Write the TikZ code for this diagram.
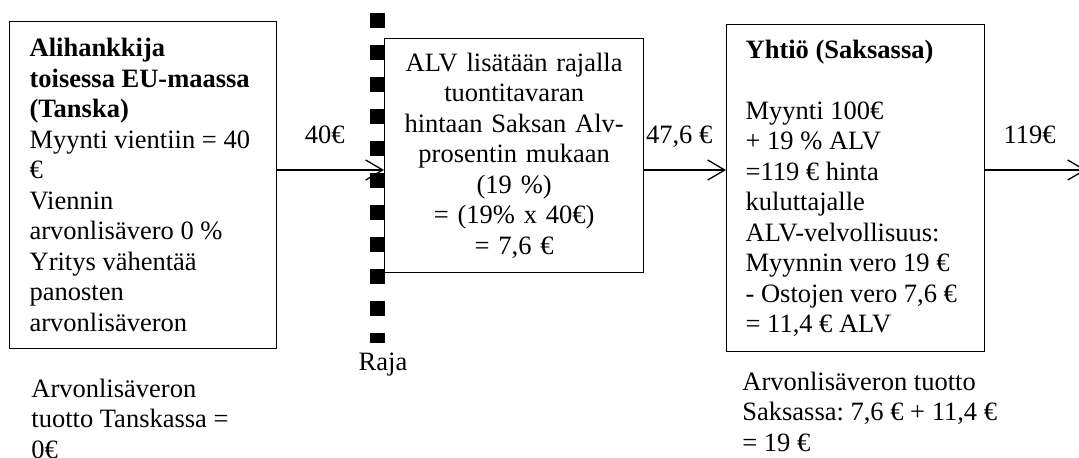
\documentclass[tikz,border=0pt]{standalone}
\usepackage{fontspec}
\setmainfont{Liberation Serif}
\usetikzlibrary{arrows.meta}
\tikzset{
  leftset/.style={align=left, execute at begin node={\frenchspacing\spaceskip=0pt\xspaceskip=0pt}},
  box/.style={draw, line width=0.65pt, inner ysep=0pt, anchor=north west},
  flow/.style={line width=0.65pt, -{Straight Barb[length=8.5pt, width=10pt, line width=0.65pt]}},
  amount/.style={midway, anchor=base, yshift=13.5pt, xshift=-3pt, inner sep=0pt},
  note/.style={leftset, anchor=base west, inner sep=0pt},
  border/.style={line width=7.5pt, dash pattern=on 7.5pt off 8.5pt}
}
\begin{document}
\begin{tikzpicture}[x=0.5pt, y=-0.5pt, font=\fontsize{13.25}{15.25}\selectfont]
  \useasboundingbox (0,0) rectangle (1079,457);
  \coordinate (flowline) at (0,170);
  \coordinate (rajatop) at (377,13);
  \coordinate (rajabottom) at (377,343);
  \draw [border] (rajatop) -- (rajabottom);
  \node [anchor=base] (raja) at (383,370) {Raja};
  \node [box, leftset, inner xsep=10pt, text width=113.5pt, minimum height=163.5pt] (tanska) at (9,21)
    {\textbf{Alihankkija}\\ \textbf{toisessa EU-maassa}\\ \textbf{(Tanska)}\\
     Myynti vientiin = 40\\ €\\ Viennin\\ arvonlisävero 0 \%\\ Yritys vähentää\\ panosten\\ arvonlisäveron};
  \node [box, inner xsep=5pt, text width=119.5pt, minimum height=117pt, align=center] (tuonti) at (384,38)
    {ALV lisätään rajalla\\ tuontitavaran\\ hintaan Saksan Alv-\\ prosentin mukaan\\ (19 \%)\\ = (19\% x 40€)\\ = 7,6 €};
  \node [box, leftset, inner xsep=9.5pt, text width=110pt, minimum height=163.5pt] (yhtio) at (726,24)
    {\textbf{Yhtiö (Saksassa)}\\[15.25pt]
     Myynti 100€\\ + 19 \% ALV\\ =119 € hinta\\ kuluttajalle\\ ALV-velvollisuus:\\
     Myynnin vero 19 €\\ - Ostojen vero 7,6 €\\ = 11,4 € ALV};
  \coordinate (kuluttaja) at (1086,170);
  \draw [flow] (tanska.east |- flowline) -- (tuonti.west |- flowline) node [amount] {40€};
  \draw [flow] (tuonti.east |- flowline) -- (yhtio.west |- flowline) node [amount] {47,6 €};
  \draw [flow] (yhtio.east |- flowline) -- (kuluttaja) node [amount] {119€};
  \node [note, text width=120pt] (tuottodk) at (31,397) {Arvonlisäveron\\ tuotto Tanskassa =\\ 0€};
  \node [note, text width=135pt] (tuottode) at (742,390) {Arvonlisäveron tuotto\\ Saksassa: 7,6 € + 11,4 €\\ = 19 €};
\end{tikzpicture}
\end{document}
